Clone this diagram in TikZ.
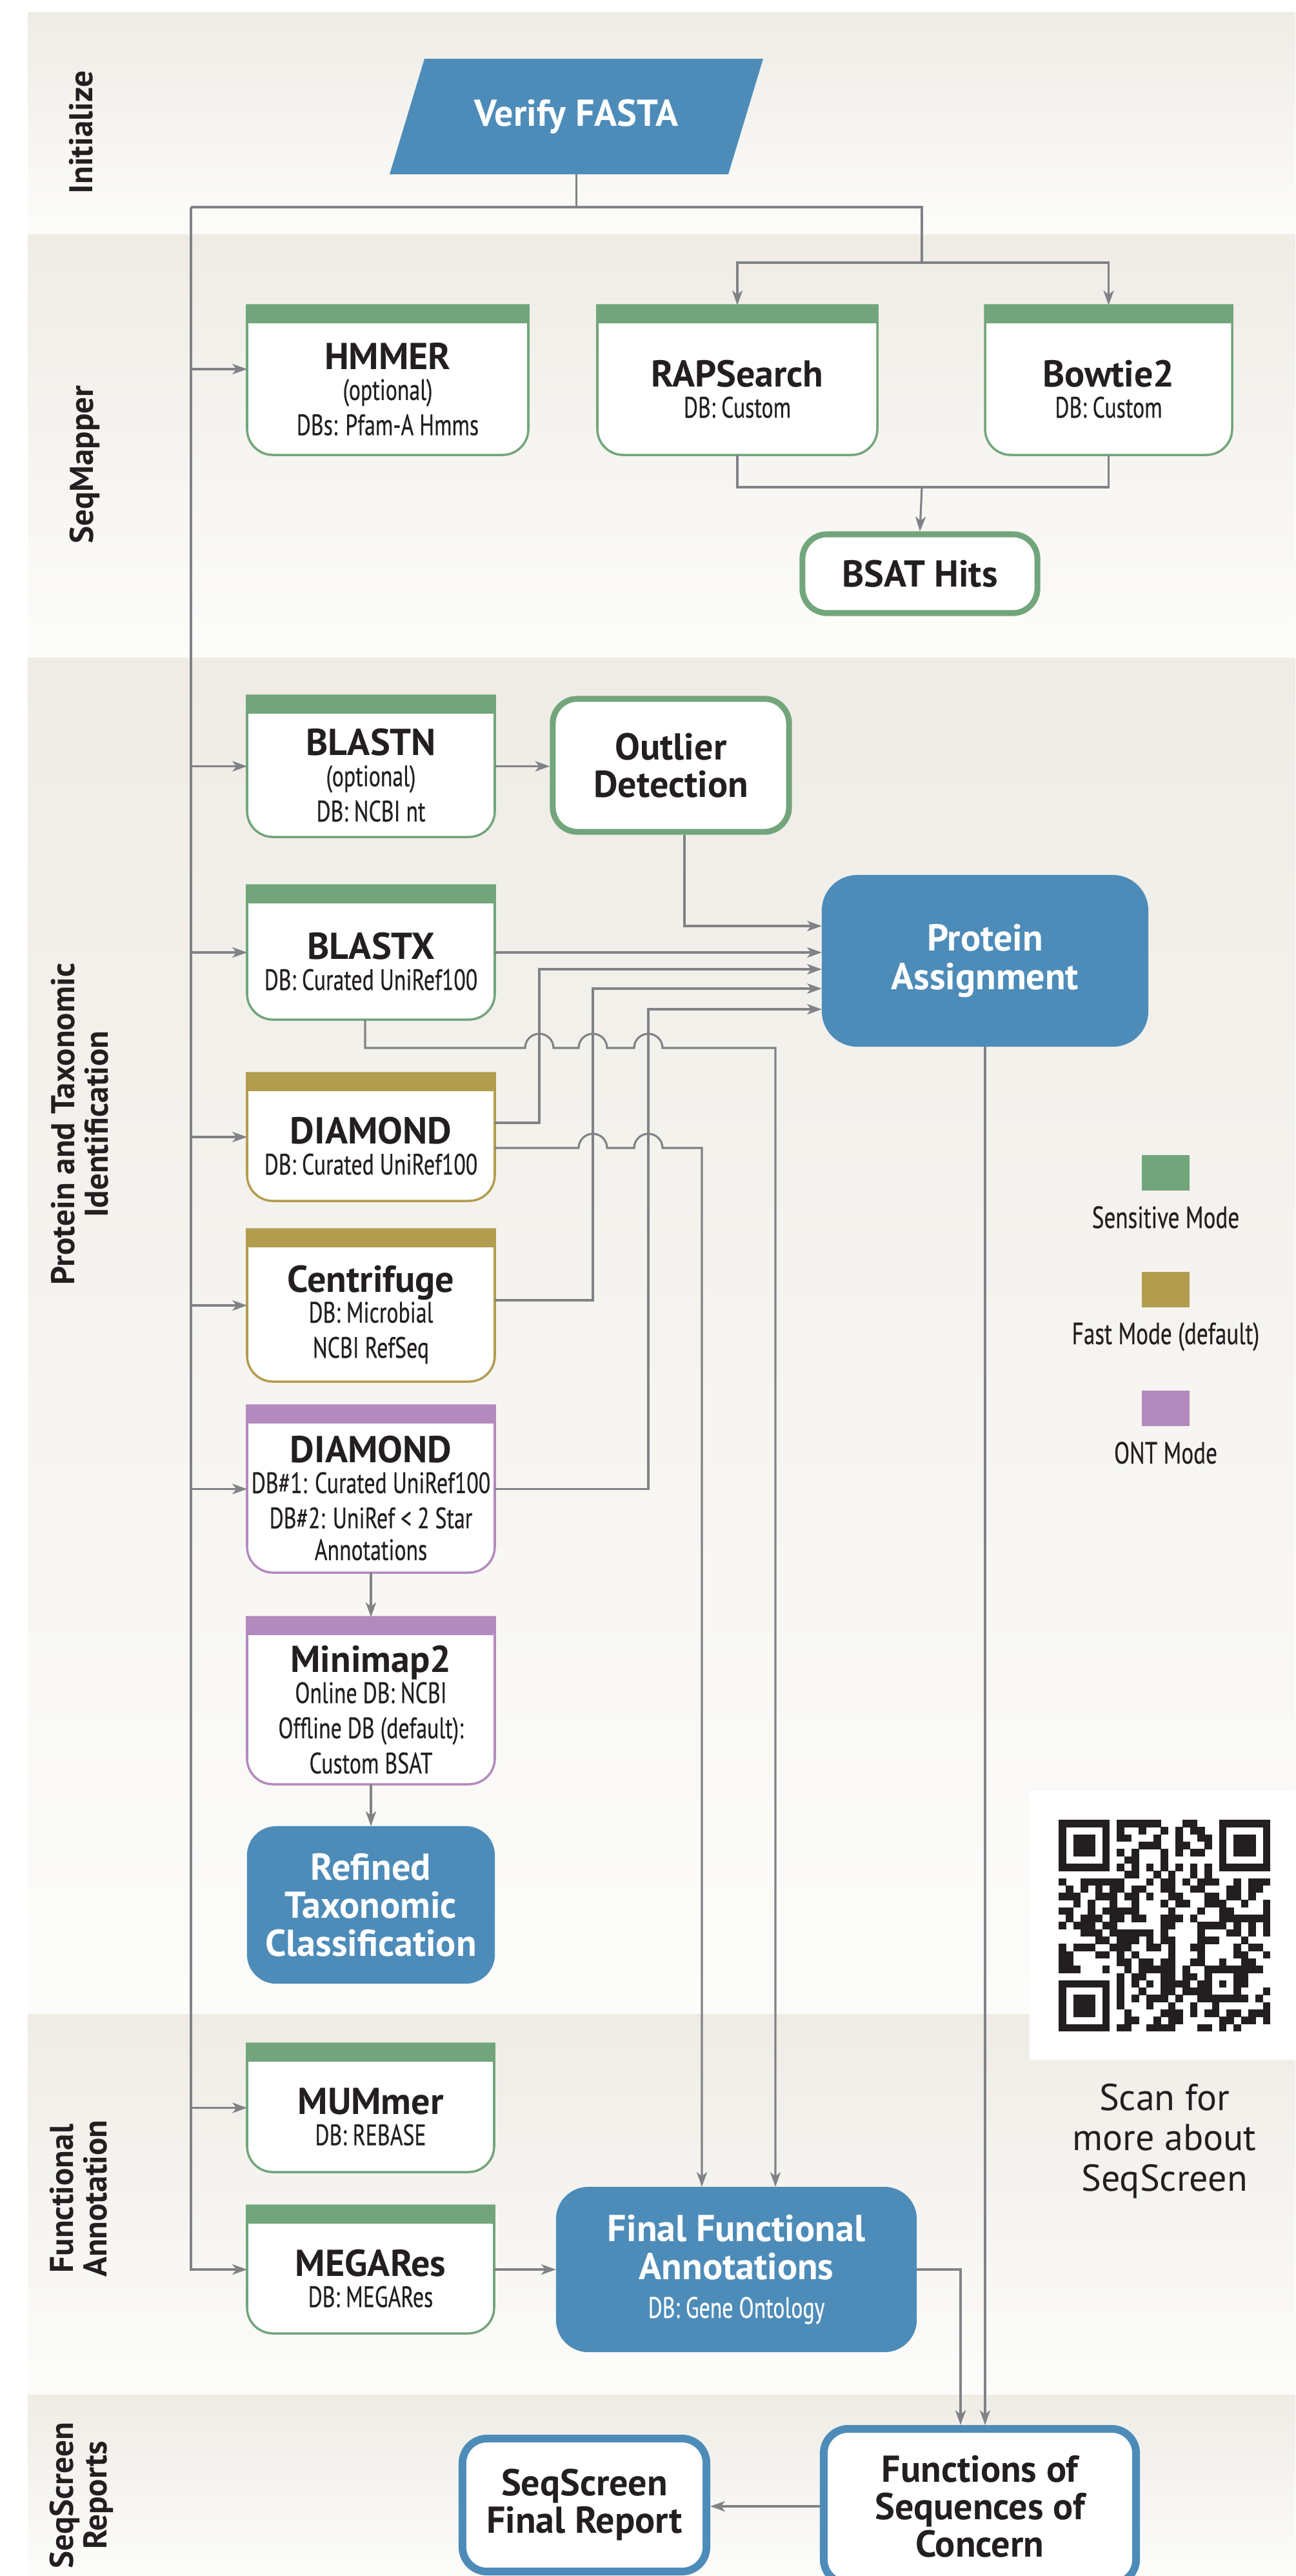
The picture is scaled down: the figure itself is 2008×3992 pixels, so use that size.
\documentclass[tikz,border=0pt]{standalone}
\usepackage{fontspec}
\setmainfont{PT Sans}
\newfontfamily\condfont{PT Sans}[FakeStretch=0.74,FakeBold=0.4]
\usetikzlibrary{arrows.meta,calc,fit}
\definecolor{bandtop}{HTML}{EFECE6}
\definecolor{bandbot}{HTML}{FCFCFA}
\definecolor{sensgreen}{HTML}{72A57B}
\definecolor{fastgold}{HTML}{B29C4E}
\definecolor{ontpurple}{HTML}{B28ABE}
\definecolor{flowblue}{HTML}{4D8CB9}
\definecolor{conngray}{HTML}{808285}
\definecolor{inkblack}{HTML}{231F20}

\newcount\qrcol
\def\qrrowy{0}
\def\qrloop#1{%
  \ifx\relax#1\else
    \ifx1#1\fill[inkblack] ({1641+11.31*\the\qrcol},{-2820-11.31*\qrrowy}) rectangle ++(11.6,-11.6);\fi
    \advance\qrcol by 1
    \expandafter\qrloop
  \fi}

\newcommand\ttl[1]{{\normalfont\bfseries\fontsize{16.5}{16}\selectfont #1}}
% name, colour, x1, y1, x2, y2 (px, y downward), text
\newcommand\toolbox[7]{%
  \node[inner sep=0pt, outer sep=0pt, fit={(#3,-#4) (#5,-#6)}] (#1) {};
  \filldraw[fill=white, draw=#2, line width=1pt] (#3,-#4) -- (#5,-#4) -- (#5,{-#6+40})
     arc[start angle=0,end angle=-90,radius=40] -- ({#3+40},-#6)
     arc[start angle=270,end angle=180,radius=40] -- cycle;
  \fill[#2] (#3,-#4) rectangle (#5,{-#4-28});
  \node[tooltext] (#1-t) at ({(#3+#5)/2},{-(#4+28+#6)/2}) {#7};
}

\begin{document}
\begin{tikzpicture}[x=0.01cm,y=0.01cm,
  conn/.style={draw=conngray, line width=0.9pt},
  flow/.style={conn, -{Stealth[length=6.5pt,width=4.6pt,inset=1.8pt]}},
  tooltext/.style={align=center, text=inkblack, inner sep=0pt, font=\condfont\fontsize{13}{15.5}\selectfont},
  heavybox/.style={inner sep=0pt, draw=#1, fill=white, line width=2.6pt, rounded corners=0.38cm, align=center, text=inkblack, font=\bfseries\fontsize{16.5}{16.5}\selectfont},
  bluebox/.style={inner sep=0pt, outer sep=0pt, fill=flowblue, rounded corners=#1, align=center, text=white, font=\bfseries\fontsize{16.5}{16.8}\selectfont},
  sidelab/.style={rotate=90, align=center, text=inkblack, inner sep=0pt, font=\bfseries\fontsize{14.5}{14.8}\selectfont},
  legtext/.style={text=inkblack, inner sep=0pt, font=\condfont\fontsize{13.5}{14}\selectfont},
  legswatch/.style={fill=#1, minimum width=0.74cm, minimum height=0.55cm, inner sep=0pt},
]
\useasboundingbox (0,0) rectangle (2008,-3992);
\clip (0,0) rectangle (2008,-3992);
\fill[white] (0,0) rectangle (2008,-3992);

% ---- bands ----
\shade[top color=bandtop, bottom color=bandbot] (43,-19) rectangle (2008,-363);
\shade[top color=bandtop, bottom color=bandbot] (43,-363) rectangle (2008,-1019);
\shade[top color=bandtop, bottom color=bandbot] (43,-1019) rectangle (2008,-3121);
\shade[top color=bandtop, bottom color=bandbot] (43,-3121) rectangle (2008,-3711);
\shade[top color=bandtop, bottom color=bandbot] (43,-3711) rectangle (2008,-3992);
\fill[white] (1596,-2775) rectangle (2008,-3192);

% ---- side labels ----
\node[sidelab] (lab1) at (126,-205) {Initialize};
\node[sidelab] (lab2) at (131,-720) {SeqMapper};
\node[sidelab] (lab3) at (124,-1742) {Protein and Taxonomic\\Identification};
\node[sidelab] (lab4) at (122,-3407) {Functional\\Annotation};
\node[sidelab] (lab5) at (126,-3867) {SeqScreen\\Reports};

% ---- Verify FASTA ----
\fill[flowblue] (604,-270) -- (1129,-270) -- (1183,-91) -- (658,-91) -- cycle;
\node[inner sep=0pt, outer sep=0pt, minimum width=5.79cm, minimum height=1.79cm, text=white,
      font=\bfseries\fontsize{16.5}{16.5}\selectfont] (verify) at (893.5,-180.5) {Verify FASTA};

% ---- tool boxes ----
\toolbox{hmmer}{sensgreen}{383}{473}{819}{705}{\ttl{HMMER}\\[-2pt](optional)\\DBs: Pfam-A Hmms}
\toolbox{rapsearch}{sensgreen}{926}{473}{1360}{705}{\ttl{RAPSearch}\\[-2pt]DB: Custom}
\toolbox{bowtie}{sensgreen}{1527}{473}{1910}{705}{\ttl{Bowtie2}\\[-2pt]DB: Custom}
\toolbox{blastn}{sensgreen}{383}{1078}{767}{1297}{\ttl{BLASTN}\\[-2pt](optional)\\DB: NCBI nt}
\toolbox{blastx}{sensgreen}{383}{1372}{767}{1580}{\ttl{BLASTX}\\[-2pt]DB: Curated UniRef100}
\toolbox{diamond}{fastgold}{383}{1663}{767}{1861}{\ttl{DIAMOND}\\[-2pt]DB: Curated UniRef100}
\toolbox{centrifuge}{fastgold}{383}{1905}{767}{2141}{\ttl{Centrifuge}\\[-2pt]DB: Microbial\\NCBI RefSeq}
\toolbox{diamondont}{ontpurple}{383}{2178}{767}{2437}{\ttl{DIAMOND}\\[-2pt]DB\#1: Curated UniRef100\\DB\#2: UniRef < 2 Star\\[-1.5pt]Annotations}
\toolbox{minimap}{ontpurple}{383}{2506}{767}{2765}{\ttl{Minimap2}\\[-2pt]Online DB: NCBI\\Offline DB (default):\\Custom BSAT}
\toolbox{mummer}{sensgreen}{383}{3167}{766}{3366}{\ttl{MUMmer}\\[-2pt]DB: REBASE}
\toolbox{megares}{sensgreen}{383}{3418}{766}{3616}{\ttl{MEGARes}\\[-2pt]DB: MEGARes}

% ---- heavy-bordered boxes ----
\node[heavybox=sensgreen, minimum width=3.64cm, minimum height=1.22cm] (bsat) at (1426,-889) {BSAT Hits};
\node[heavybox=sensgreen, minimum width=3.66cm, minimum height=2.06cm] (outlier) at (1040,-1186) {Outlier\\Detection};
\node[heavybox=flowblue, line width=3.4pt, minimum width=3.78cm, minimum height=2.06cm] (report) at (906,-3882) {SeqScreen\\Final Report};
\node[heavybox=flowblue, line width=3.4pt, minimum width=4.84cm, minimum height=2.40cm] (functions) at (1519,-3884) {Functions of\\Sequences of\\Concern};

% ---- blue boxes ----
\node[bluebox=0.55cm, minimum width=5.06cm, minimum height=2.66cm] (pa) at (1527,-1489) {Protein\\Assignment};
\node[bluebox=0.45cm, minimum width=3.84cm, minimum height=2.44cm] (refined) at (575,-2952) {Refined\\Taxonomic\\Classification};
\node[bluebox=0.5cm, minimum width=5.59cm, minimum height=2.56cm] (ffa) at (1141.5,-3517) {Final Functional\\Annotations\\{\condfont\mdseries\fontsize{13}{14}\selectfont DB: Gene Ontology}};

% ---- coordinates ----
\coordinate (trunk) at (296,0);
\coordinate (jL) at (296,-321);
\coordinate (jR) at (1429,-321);
\coordinate (jR2) at (1429,-407);
\coordinate (jM) at (1429,-755);
\coordinate (busO) at (1061,0);
\coordinate (busA) at (836,0);
\coordinate (busB) at (919,0);
\coordinate (busC) at (1005,0);
\coordinate (busD) at (1088,0);
\coordinate (busE) at (1202,0);
\coordinate (paE1) at ($(pa.west)+(0,54)$);
\coordinate (paE3) at ($(pa.west)+(0,-13)$);
\coordinate (paE4) at ($(pa.west)+(0,-43)$);
\coordinate (paE5) at ($(pa.west)+(0,-75)$);
\coordinate (hmmerin) at ($(hmmer.west)+(0,17)$);
\coordinate (d1out) at ($(diamond.east)+(0,22)$);
\coordinate (d2out) at ($(diamond.east)+(0,-17)$);
\coordinate (cout) at ($(centrifuge.east)+(0,8)$);
\coordinate (bxout) at ($(blastx.south)+(-9,0)$);

% ---- connectors ----
\draw[conn] (verify.south) -- (verify.south |- jL);
\draw[conn] (jL) -- (jR) -- (jR2);
\draw[flow] (jR2) -| (rapsearch.north);
\draw[flow] (jR2) -| (bowtie.north);
\draw[conn] (rapsearch.south) |- (jM);
\draw[conn] (bowtie.south) |- (jM);
\draw[flow] (jM) -- (bsat.north);

\draw[flow] (jL) |- (megares.west);
\draw[flow] (trunk |- hmmerin) -- (hmmerin);
\draw[flow] (trunk |- blastn.west) -- (blastn.west);
\draw[flow] (trunk |- blastx.west) -- (blastx.west);
\draw[flow] (trunk |- diamond.west) -- (diamond.west);
\draw[flow] (trunk |- centrifuge.west) -- (centrifuge.west);
\draw[flow] (trunk |- diamondont.west) -- (diamondont.west);
\draw[flow] (trunk |- mummer.west) -- (mummer.west);

\draw[flow] (blastn.east) -- (blastn.east -| outlier.west);
\draw[flow] (outlier.south -| busO) |- (paE1);
\draw[flow] (blastx.east) -- (blastx.east -| pa.west);
\draw[flow] (d1out) -| (busA |- paE3) -- (paE3);
\draw[flow] (cout) -| (busB |- paE4) -- (paE4);
\draw[flow] (diamondont.east) -| (busC |- paE5) -- (paE5);

\draw[flow] (bxout) -- (566,-1624) -- (814,-1624) arc[start angle=180,end angle=0,radius=22]
   -- (897,-1624) arc[start angle=180,end angle=0,radius=22]
   -- (983,-1624) arc[start angle=180,end angle=0,radius=22]
   -- (1202,-1624) -- (ffa.north -| busE);
\draw[flow] (d2out) -- (897,-1779) arc[start angle=180,end angle=0,radius=22]
   -- (983,-1779) arc[start angle=180,end angle=0,radius=22]
   -- (1088,-1779) -- (ffa.north -| busD);

\draw[flow] (diamondont.south) -- (minimap.north);
\draw[flow] (minimap.south) -- (refined.north);
\draw[flow] (megares.east) -- (megares.east -| ffa.west);
\draw[flow] (pa.south) -- (pa.south |- functions.north);
\draw[flow] (ffa.east) -| ($(functions.north)+(-30,0)$);
\draw[flow] (functions.west) -- (functions.west -| report.east);

% ---- legend ----
\node[legswatch=sensgreen] (legS) at (1807,-1817) {};
\node[legtext, anchor=base] (legSt) at (1807,-1903) {Sensitive Mode};
\node[legswatch=fastgold] (legF) at (1807,-1998) {};
\node[legtext, anchor=base] (legFt) at (1807,-2083) {Fast Mode (default)};
\node[legswatch=ontpurple] (legO) at (1807,-2182) {};
\node[legtext, anchor=base] (legOt) at (1807,-2268) {ONT Mode};

% ---- QR code ----
\foreach \qrbits [count=\qrr from 0] in {
1111111 0 111111 000 11 000 1111111,
1000001 0 1 00 1 00 1 0 1 0 11 00 1000001,
1011101 0 11 000 1 00 1 00 11 0 1011101,
1011101 0 000 111 00 11 00 1 0 1011101,
1011101 0 1 0 1 000 1 0 1 0 11 00 1011101,
1000001 0 0 11 000 1 0000000 1000001,
1111111 0 1010101010101 0 1111111,
00000000 0110010100101 00000000,
1 00 111111 000 1 0 11 0 1 0 111 00 1 0 111,
0 1 0 1 0 1 0 11 0 11 00 11 00 11 000 11 0 11 0,
111 00 111 0 11 0 1 00 11 000 11 0 11 0 1 00,
00 1 0 1 00 1 00 1 000 1 0 11 00 111 00 1 00 1,
11 00 1 0 11111 0000 1 000 1 00 11 0000 1,
0 1 0 111 0 11 0 11 00 111 0 1 000 1111111,
1 0 111 0 11 000000 11 000 1111 0 1 0 1 0 1,
000 111 0 111111 0 1 0000 1 000 11 0 1 0 1,
00000 11 0 111 0 1 0 11 000 111 000 1 000,
1 0 111 00 111 00 11 0 1 00 11 0000 1 0 11 0,
11 000 11 0 1 0 1 0000 1 000 1 0000 11 00 1,
11 000000 11 0 11 0 11 00 11 00 1 00 11 00,
111 000 1 00 1 0 11111 0 1 00 11111111 0,
00000000 1 0 11 00 11 0 11 0 1 000 11 000,
1111111 0 1 0 1 0 1 0 1111 0 11 0 1 0 11 000,
1000001 0 1 00 1 00 11 0 1111 000 1 000 1,
1011101 0 1 0 1 0 111 0 1 00 1111111 0 1 0,
1011101 0 1 000 1 00 1 00 1 00 1 000000 1,
1011101 0 0 1 0000 111 0 1 0 11 0 11 0 111,
1000001 0 0 11 00 1 0 11 00000 11 0 11 0 1,
1111111 0 11 00 1111 000 11 0 1 0 1 0000}
{\qrcol=0 \edef\qrrowy{\qrr}\expandafter\qrloop\qrbits\relax}

\node[align=center, text=inkblack, inner sep=0pt, font=\fontsize{16.5}{17.7}\selectfont] (scan) at (1805,-3318) {Scan for\\more about\\SeqScreen};
\end{tikzpicture}
\end{document}
